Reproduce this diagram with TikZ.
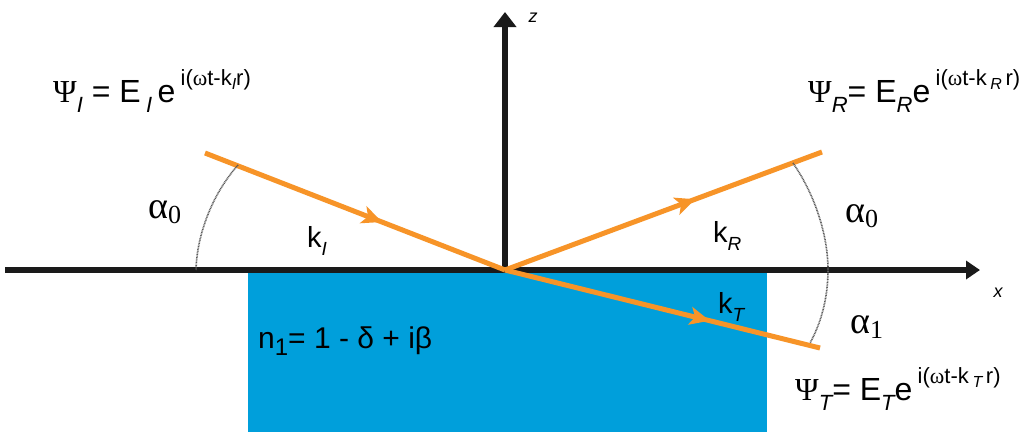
\documentclass[tikz,border=0pt]{standalone}
\usepackage{fontspec}
\setmainfont{Liberation Sans}
\newfontfamily\serif{Liberation Serif}
\usetikzlibrary{arrows.meta,decorations.markings}
\definecolor{raycol}{RGB}{247,148,40}
\definecolor{subcol}{RGB}{0,159,219}
\definecolor{axcol}{RGB}{26,26,26}
\newcommand{\lo}[1]{\raisebox{-10pt}{\fontsize{22}{22}\selectfont\itshape #1}}
\newcommand{\hi}[1]{\raisebox{17pt}{\fontsize{22}{22}\selectfont #1}}
\newcommand{\hlo}[1]{\raisebox{-4pt}{\fontsize{16}{16}\selectfont\itshape #1}}
\newcommand{\klo}[1]{\raisebox{-8pt}{\fontsize{19}{19}\selectfont\itshape #1}}
\newcommand{\alo}[1]{\raisebox{-5pt}{\fontsize{26}{26}\selectfont #1}}
\begin{document}
\begin{tikzpicture}[x=1pt,y=-1pt,
  axis/.style={line width=6pt,color=axcol},
  raystyle/.style={line width=5pt,color=raycol},
  midarrow/.style={postaction={decorate},decoration={markings,
     mark=at position #1 with {\arrow[raycol]{Stealth[length=20pt,width=18pt,inset=5pt]}}}},
  arcstyle/.style={line width=1.6pt,color=black!65,dash pattern=on 0.9pt off 0.7pt},
  eq/.style={anchor=base west,inner sep=0pt,font=\fontsize{32}{36}\selectfont},
  klabel/.style={anchor=base west,inner sep=0pt,font=\fontsize{29}{30}\selectfont},
  alabel/.style={anchor=base west,inner sep=0pt,font=\serif\fontsize{38}{40}\selectfont},
  axlabel/.style={inner sep=0pt,font=\fontsize{18}{18}\selectfont\itshape}
]
\useasboundingbox (0,0) rectangle (1021,432);
\fill[white] (0,0) rectangle (1021,432);
% medium
\fill[subcol] (248,272) rectangle (767,432);
% coordinates
\coordinate (O) at (505,270);
\coordinate (Istart) at (205,153);
\coordinate (Rend) at (822,152);
\coordinate (Tend) at (820,348);
\coordinate (xl) at (5,270);
\coordinate (xr) at (980,270);
\coordinate (zt) at (505,12);
% axes
\draw[axis,-{Triangle[length=14pt,width=18pt]}] (xl) -- (xr);
\draw[axis,-{Triangle[length=15pt,width=22pt]}] (O) -- (zt);
\node[axlabel] (zlab) at (533,18) {z};
\node[axlabel] (xlab) at (998,293) {x};
% rays
\draw[raystyle,midarrow=0.59] (Istart) -- (O);
\draw[raystyle,midarrow=0.6] (O) -- (Rend);
\draw[raystyle,midarrow=0.65] (O) -- (Tend);
% angle arcs
\coordinate (a1) at (238,165);
\coordinate (a2) at (196,270);
\draw[arcstyle] (a1) .. controls (214,192) and (197,232) .. (a2);
\coordinate (b1) at (793,163);
\coordinate (b2) at (828,270);
\coordinate (b3) at (810,343);
\draw[arcstyle] (b1) .. controls (815,195) and (828,235) .. (b2)
   .. controls (828,300) and (820,325) .. (b3);
% labels
\node[eq] (psiI) at (53,102) {{\serif Ψ}\lo{I} = E\,\lo{I}\,e\,\hi{i({\serif ω}t-k\hlo{I}r)}};
\node[eq] (psiR) at (808,102) {{\serif Ψ}\lo{R}= E\lo{R}e\,\hi{i({\serif ω}t-k\,\hlo{R}\,r)}};
\node[eq] (psiT) at (795,400) {{\serif Ψ}\lo{T}= E\lo{T}e\,\hi{i({\serif ω}t-k\,\hlo{T}\,r)}};
\node[alabel] (al0) at (148,218) {α\alo{0}};
\node[alabel] (ar0) at (845,222) {α\alo{0}};
\node[alabel] (ar1) at (850,333) {α\alo{1}};
\node[klabel] (kI) at (307,247) {k\klo{I}};
\node[klabel] (kR) at (713,242) {k\klo{R}};
\node[klabel] (kT) at (718,313) {k\klo{T}};
\node[anchor=base west,inner sep=0pt,font=\fontsize{30}{32}\selectfont] (n1) at (258,348) {n\raisebox{-7pt}{\fontsize{24}{24}\selectfont 1}= 1 - δ + iβ};
\end{tikzpicture}
\end{document}
